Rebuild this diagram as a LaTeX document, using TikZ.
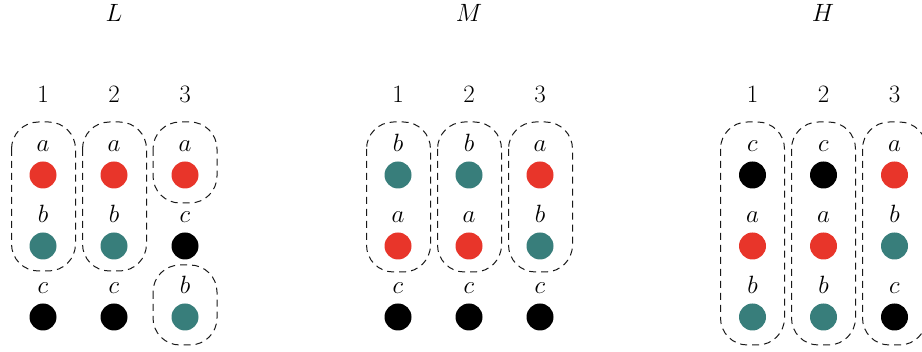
\documentclass[tikz,border=0pt]{standalone}
\usepackage{fix-cm}
\definecolor{dotred}{HTML}{E8352A}
\definecolor{dotteal}{HTML}{387E7B}
\definecolor{dotblack}{HTML}{000000}
\tikzset{
  lab/.style={anchor=base, inner sep=0pt, font=\fontsize{25}{30}\selectfont},
  dotnode/.style={circle, fill=#1, minimum size=27pt, inner sep=0pt},
  grp/.style={draw=black!90, line width=1pt, dash pattern=on 7pt off 5pt, rounded corners=27pt},
}
% \mycol{name}{x}{number}{l1}{c1}{l2}{c2}{l3}{c3}
\newcommand{\mycol}[9]{%
  \node[lab] (#1n) at (#2,102.5) {#3};
  \node[lab] (#1la) at (#2,152) {$#4$};
  \node[dotnode=#5] (#1da) at (#2,175) {};
  \node[lab] (#1lb) at (#2,223) {$#6$};
  \node[dotnode=#7] (#1db) at (#2,246) {};
  \node[lab] (#1lc) at (#2,294) {$#8$};
  \node[dotnode=#9] (#1dc) at (#2,317) {};
}
\newcommand{\mybox}[3]{%
  \draw[grp] (#1-32,#2) rectangle (#1+32,#3);
}
\begin{document}
\begin{tikzpicture}[x=1pt,y=-1pt]
\useasboundingbox (0,0) rectangle (922,352);
% titles
\node[lab] (tL) at (114,22) {$L$};
\node[lab] (tM) at (469,22) {$M$};
\node[lab] (tH) at (823,22) {$H$};
% L
\mycol{L1}{43}{1}{a}{dotred}{b}{dotteal}{c}{dotblack}
\mycol{L2}{114}{2}{a}{dotred}{b}{dotteal}{c}{dotblack}
\mycol{L3}{185}{3}{a}{dotred}{c}{dotblack}{b}{dotteal}
\mybox{43.5}{122}{271}
\mybox{114.5}{122}{271}
\mybox{185}{122}{203}
\mybox{185}{265}{345}
% M
\mycol{M1}{398}{1}{b}{dotteal}{a}{dotred}{c}{dotblack}
\mycol{M2}{469}{2}{b}{dotteal}{a}{dotred}{c}{dotblack}
\mycol{M3}{540}{3}{a}{dotred}{b}{dotteal}{c}{dotblack}
\mybox{398.5}{122}{272}
\mybox{469.5}{122}{272}
\mybox{540.5}{122}{272}
% H
\mycol{H1}{752.5}{1}{c}{dotblack}{a}{dotred}{b}{dotteal}
\mycol{H2}{823.5}{2}{c}{dotblack}{a}{dotred}{b}{dotteal}
\mycol{H3}{894.5}{3}{a}{dotred}{b}{dotteal}{c}{dotblack}
\mybox{752.5}{122}{345}
\mybox{823.5}{122}{345}
\mybox{894.5}{122}{345}
\end{tikzpicture}
\end{document}
